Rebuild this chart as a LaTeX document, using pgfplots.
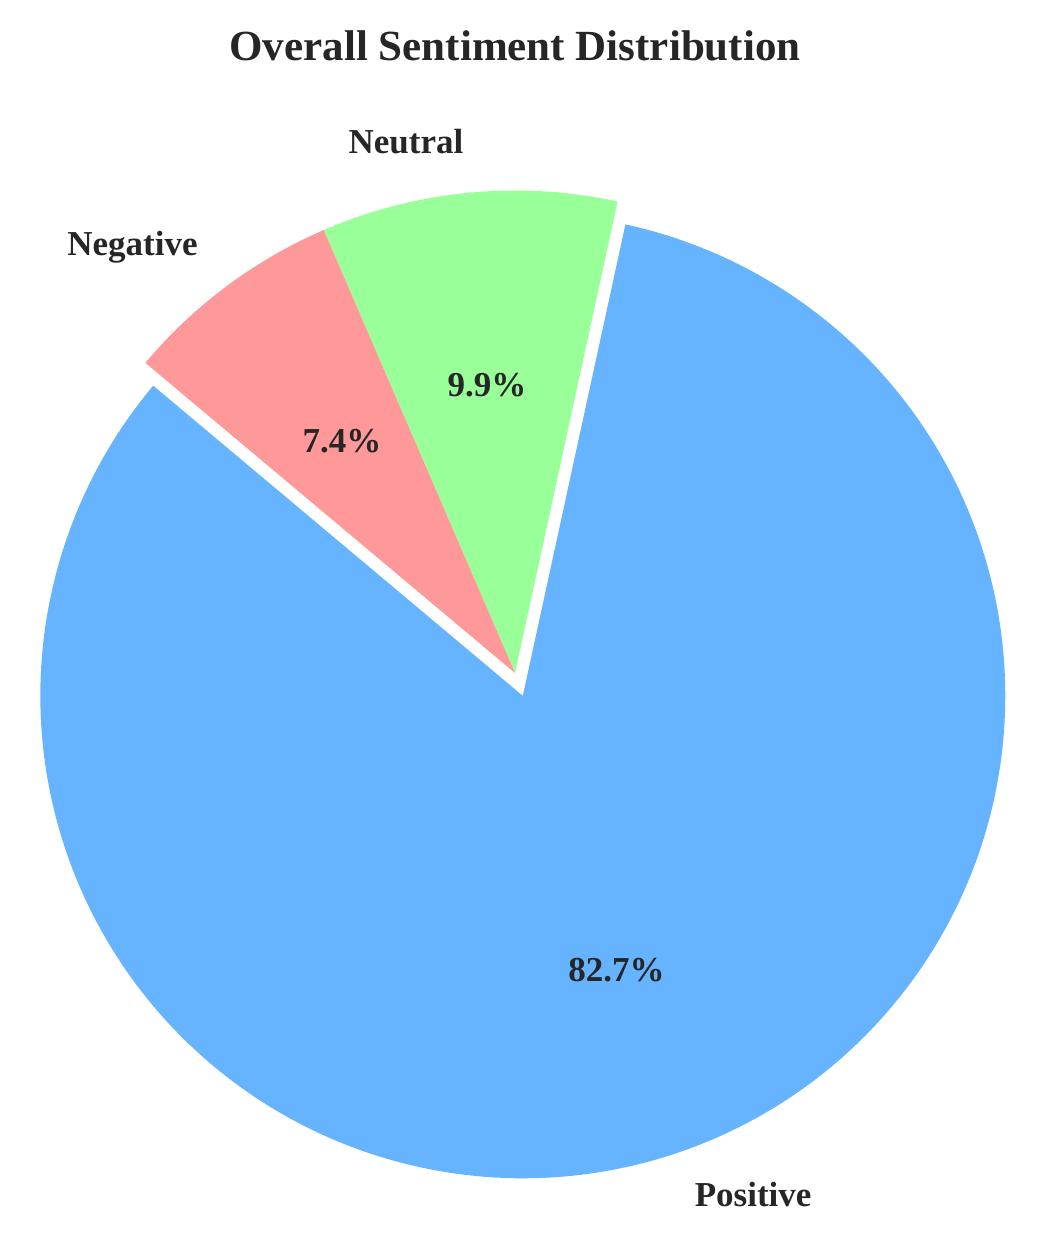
\documentclass[border=0pt]{standalone}
\usepackage{fontspec}
\setmainfont{Liberation Serif}
\usepackage{pgfplots}
\pgfplotsset{compat=1.18}
\definecolor{cpos}{HTML}{66B3FF}
\definecolor{cneu}{HTML}{99FF99}
\definecolor{cneg}{HTML}{FF9999}
\definecolor{txt}{HTML}{262626}

\begin{document}
\begin{tikzpicture}[lbl/.style={text=txt, inner sep=0pt, font=\bfseries\fontsize{17.5}{20}\selectfont}]
% shares in percent
\def\pPos{82.7}\def\pNeu{9.9}\def\pNeg{7.4}
\pgfmathsetmacro{\R}{482.5}
\def\cx{515}\def\cy{567}
\pgfmathsetmacro{\aA}{140}
\pgfmathsetmacro{\aB}{\aA+3.6*\pPos}
\pgfmathsetmacro{\aC}{\aB+3.6*\pNeu}
\pgfmathsetmacro{\aD}{\aC+3.6*\pNeg}
% explode the positive slice
\pgfmathsetmacro{\mA}{(\aA+\aB)/2}
\pgfmathsetmacro{\px}{\cx+0.05*\R*cos(\mA)}
\pgfmathsetmacro{\py}{\cy+0.05*\R*sin(\mA)}
\pgfmathsetmacro{\mB}{(\aB+\aC)/2}
\pgfmathsetmacro{\mC}{(\aC+\aD)/2}
\begin{axis}[
  width=519.5pt, height=620pt, scale only axis,
  xmin=0, xmax=1039, ymin=0, ymax=1240,
  hide axis, clip=false
]
\addplot[draw=none] coordinates {(0,0) (1039,1240)};
\addplot[fill=cpos, draw=none, domain=\aA:\aB, samples=250, variable=\t]
  ({\px+\R*cos(t)}, {\py+\R*sin(t)}) -- (axis cs:\px,\py) -- cycle;
\addplot[fill=cneu, draw=none, domain=\aB:\aC, samples=40, variable=\t]
  ({\cx+\R*cos(t)}, {\cy+\R*sin(t)}) -- (axis cs:\cx,\cy) -- cycle;
\addplot[fill=cneg, draw=none, domain=\aC:\aD, samples=40, variable=\t]
  ({\cx+\R*cos(t)}, {\cy+\R*sin(t)}) -- (axis cs:\cx,\cy) -- cycle;

\node[text=txt, font=\bfseries\fontsize{21.5}{24}\selectfont] at (axis cs:515,1194) {Overall Sentiment Distribution};

\node[lbl, anchor=west] at (axis cs:{\px+1.1*\R*cos(\mA)},{\py+4+1.1*\R*sin(\mA)}) {Positive};
\node[lbl, anchor=east] at (axis cs:{\cx+1.1*\R*cos(\mB)},{\cy+3+1.1*\R*sin(\mB)}) {Neutral};
\node[lbl, anchor=east] at (axis cs:{\cx+1.1*\R*cos(\mC)},{\cy+1.1*\R*sin(\mC)}) {Negative};

\node[lbl] at (axis cs:{\px+0.6*\R*cos(\mA)},{\py+0.6*\R*sin(\mA)}) {\pPos\%};
\node[lbl] at (axis cs:{\cx+0.6*\R*cos(\mB)},{\cy+0.6*\R*sin(\mB)}) {\pNeu\%};
\node[lbl] at (axis cs:{\cx+0.6*\R*cos(\mC)},{\cy+0.6*\R*sin(\mC)}) {\pNeg\%};
\end{axis}
\end{tikzpicture}
\end{document}
